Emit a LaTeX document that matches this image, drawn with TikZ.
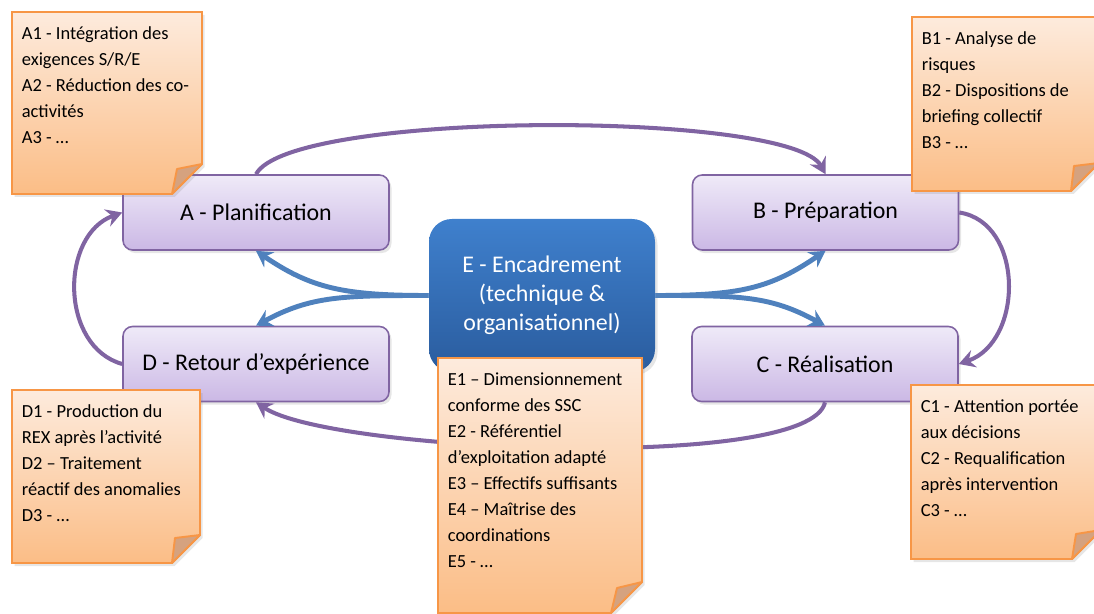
\documentclass[tikz,border=0pt]{standalone}
\usepackage{fontspec}
\setmainfont{Carlito}
\usetikzlibrary{arrows.meta,shadows}
\definecolor{cyclepurple}{HTML}{8064A2}
\definecolor{phasetop}{HTML}{EFEAF8}
\definecolor{phasebottom}{HTML}{CBB8E5}
\definecolor{hubtop}{HTML}{3F80CD}
\definecolor{hubbottom}{HTML}{2A5C9E}
\definecolor{hubblue}{HTML}{4F81BD}
\definecolor{notetop}{HTML}{FDEBDD}
\definecolor{notebottom}{HTML}{FBBD86}
\definecolor{noteline}{HTML}{F79646}
\definecolor{notefold}{HTML}{D5A27F}

\begin{document}
\begin{tikzpicture}[
    phase/.style={draw=cyclepurple, line width=0.9pt, rounded corners=5.5pt, top color=phasetop, bottom color=phasebottom,
                  minimum width=5.32cm, minimum height=1.50cm, font=\fontsize{13.6}{16.5}\selectfont,
                  drop shadow={opacity=0.2, shadow xshift=0.05cm, shadow yshift=-0.06cm}},
    hub/.style={rounded corners=13pt, top color=hubtop, bottom color=hubbottom, text=white, align=center,
                minimum width=4.52cm, minimum height=3.06cm, font=\fontsize{13.6}{16.5}\selectfont,
                drop shadow={opacity=0.2, shadow xshift=0.05cm, shadow yshift=-0.06cm}},
    note/.style={draw=noteline, line width=1.1pt, top color=notetop, bottom color=notebottom,
                 drop shadow={opacity=0.2, shadow xshift=0.05cm, shadow yshift=-0.06cm}},
    fold/.style={draw=noteline, line width=1.1pt, fill=notefold, line join=round},
    notetext/.style={anchor=north west, align=left, inner xsep=0.19cm, inner ysep=0.29cm,
                     font=\fontsize{10.5}{14.8}\selectfont, execute at begin node=\strut},
    loopline/.style={draw=cyclepurple, line width=2.3pt, -{Stealth[length=3.2mm, width=3.6mm, inset=1.1mm]}},
    flow/.style={draw=hubblue, line width=2.8pt, -{Stealth[length=3.2mm, width=3.6mm, inset=1.1mm]}}
  ]
    \clip (0,0) rectangle (21.88,12.26);

    % the four phases and the central box
    \node[phase] (plan) at (5.12,8.01)  {A - Planification};
    \node[phase] (prep) at (16.51,8.01) {B - Préparation};
    \node[phase] (real) at (16.50,4.98) {C - Réalisation};
    \node[phase] (rex)  at (5.12,4.98)  {D - Retour d’expérience};
    \node[hub]   (hub)  at (10.84,6.35) {E - Encadrement\\(technique \&\\organisationnel)};

    % cycle A -> B -> C -> D -> A
    \draw[loopline] (plan.north) .. controls +(0.68,1.28) and +(-0.7,1.28) .. (prep.north);
    \draw[loopline] (prep.east) .. controls +(1.3,-0.2) and +(1.3,0.45) .. (real.east);
    \draw[loopline] (real.south) .. controls +(-0.3,-1.4) and +(1.5,-1.0) .. (rex.south);
    \draw[loopline] (rex.west) .. controls +(-1.25,0.35) and +(-1.25,-0.45) .. (plan.west);

    % E feeds every phase
    \draw[flow] (hub.west) .. controls +(-1.7,0) and +(1.1,-0.75) .. (plan.south);
    \draw[flow] (hub.west) .. controls +(-1.7,0) and +(1.1,0.6) .. (rex.north);
    \draw[flow] (hub.east) .. controls +(1.7,0) and +(-1.1,-0.75) .. (prep.south);
    \draw[flow] (hub.east) .. controls +(1.7,0) and +(-1.1,0.6) .. (real.north);

    % sticky notes, bottom right corner folded
    \path[note] (0.24,12.02) -- (4.04,12.02) -- (4.04,8.98) -- (3.44,8.38) -- (0.24,8.38) -- cycle;
    \path[fold] (4.04,8.98) -- (3.44,8.38) -- (3.54,8.88) -- cycle;
    \node[notetext] (plannote) at (0.24,12.02) {A1 - Intégration des\\exigences S/R/E\\A2 - Réduction des co-\\activités\\A3 - …};

    \path[note] (18.24,11.92) -- (21.98,11.92) -- (21.98,9.00) -- (21.42,8.44) -- (18.24,8.44) -- cycle;
    \path[fold] (21.98,9.00) -- (21.42,8.44) -- (21.48,8.94) -- cycle;
    \node[notetext] (prepnote) at (18.24,11.92) {B1 - Analyse de\\risques\\B2 - Dispositions de\\briefing collectif\\B3 - …};

    \path[note] (18.22,4.56) -- (22.02,4.56) -- (22.02,1.66) -- (21.44,1.08) -- (18.22,1.08) -- cycle;
    \path[fold] (22.02,1.66) -- (21.44,1.08) -- (21.52,1.58) -- cycle;
    \node[notetext] (realnote) at (18.22,4.56) {C1 - Attention portée\\aux décisions\\C2 - Requalification\\après intervention\\C3 - …};

    \path[note] (0.24,4.46) -- (4.00,4.46) -- (4.00,1.56) -- (3.44,1.00) -- (0.24,1.00) -- cycle;
    \path[fold] (4.00,1.56) -- (3.44,1.00) -- (3.50,1.50) -- cycle;
    \node[notetext] (rexnote) at (0.24,4.46) {D1 - Production du\\REX après l’activité\\D2 – Traitement\\réactif des anomalies\\D3 - …};

    \path[note] (8.76,5.10) -- (12.84,5.10) -- (12.84,0.62) -- (12.22,0) -- (8.76,0) -- cycle;
    \path[fold] (12.84,0.62) -- (12.22,0) -- (12.34,0.50) -- cycle;
    \node[notetext] (hubnote) at (8.76,5.10) {E1 – Dimensionnement\\conforme des SSC\\E2 - Référentiel\\d’exploitation adapté\\E3 – Effectifs suffisants\\E4 – Maîtrise des\\coordinations\\E5 - …};
\end{tikzpicture}
\end{document}
